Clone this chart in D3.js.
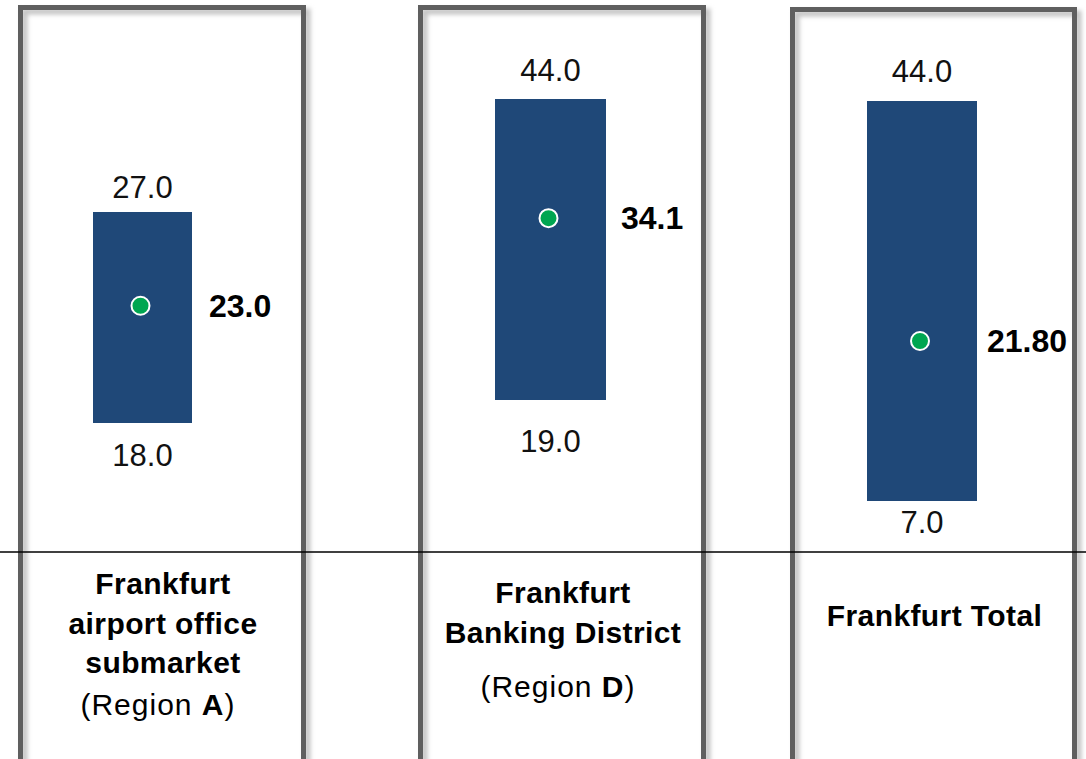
<!DOCTYPE html>
<html>
<head>
<meta charset="utf-8">
<script src="https://cdn.jsdelivr.net/npm/d3@7"></script>
<style>
  html, body { margin: 0; padding: 0; background: #fff; }
  svg { display: block; font-family: "Century Gothic", "Liberation Sans", Arial, sans-serif; }
</style>
</head>
<body>
<div id="chart"></div>
<script>
// data
const categoryLines = [["Frankfurt", "airport office", "submarket"], ["Frankfurt", "Banking District"], ["Frankfurt Total"]];
const regionCodes = ["A", "D", null];
const minValues = [18.0, 19.0, 7.0];
const maxValues = [27.0, 44.0, 44.0];
const avgValues = [23.0, 34.1, 21.8];
const avgLabels = ["23.0", "34.1", "21.80"];

// layout (each panel has its own vertical scale)
const panelX = [[20.5, 303.5], [420.5, 703.5], [792.5, 1074.5]];
const panelTop = [7.5, 7.5, 9.5];
const barX = [[93, 192], [495, 606], [867, 977]];
const barRange = [[423, 212], [400, 99], [501, 101]];
const maxGap = [14, 18, 19];
const minGap = [43, 52, 32];
const avgGap = [17, 15, 10];
const labelBase = [[594, 634, 673, 715], [603, 643, 697], [626]];

const width = 1086, height = 759;
const barColor = "#1f4878", dotColor = "#00a651", borderColor = "#5f5f5f";

const svg = d3.select("#chart").append("svg").attr("width", width).attr("height", height);

const defs = svg.append("defs");
defs.append("filter").attr("id", "soft").attr("x", "-10%").attr("y", "-10%").attr("width", "120%").attr("height", "120%")
    .append("feGaussianBlur").attr("stdDeviation", 2.2);

const fmt = d3.format(".1f");

categoryLines.forEach((lines, i) => {
    const y = d3.scaleLinear().domain([minValues[i], maxValues[i]]).range(barRange[i]);
    const [x0, x1] = barX[i];
    const cx = (x0 + x1) / 2;
    const g = svg.append("g");

    // panel frame: soft shadow then grey border
    g.append("rect")
        .attr("x", panelX[i][0] + 4).attr("y", panelTop[i] + 4)
        .attr("width", panelX[i][1] - panelX[i][0]).attr("height", 820)
        .attr("fill", "none").attr("stroke", "#c4c4c4").attr("stroke-width", 6)
        .attr("filter", "url(#soft)");
    g.append("rect")
        .attr("x", panelX[i][0]).attr("y", panelTop[i])
        .attr("width", panelX[i][1] - panelX[i][0]).attr("height", 820)
        .attr("fill", "none").attr("stroke", borderColor).attr("stroke-width", 5);

    // range bar
    g.append("rect")
        .attr("x", x0).attr("width", x1 - x0)
        .attr("y", y(maxValues[i])).attr("height", y(minValues[i]) - y(maxValues[i]))
        .attr("fill", barColor);

    g.append("text").attr("x", cx).attr("y", y(maxValues[i]) - maxGap[i])
        .attr("text-anchor", "middle").attr("font-size", 31).attr("fill", "#111")
        .text(fmt(maxValues[i]));
    g.append("text").attr("x", cx).attr("y", y(minValues[i]) + minGap[i])
        .attr("text-anchor", "middle").attr("font-size", 31).attr("fill", "#111")
        .text(fmt(minValues[i]));

    // average point
    g.append("circle").attr("cx", cx - 2).attr("cy", y(avgValues[i])).attr("r", 9)
        .attr("fill", dotColor).attr("stroke", "#fff").attr("stroke-width", 2);
    g.append("text").attr("x", x1 + avgGap[i]).attr("y", y(avgValues[i]) + 11)
        .attr("font-size", 32).attr("font-weight", "bold").attr("fill", "#000")
        .text(avgLabels[i]);

    // category label
    const lx = (panelX[i][0] + panelX[i][1]) / 2 + 1;
    lines.forEach((t, j) => {
        g.append("text").attr("x", lx).attr("y", labelBase[i][j])
            .attr("text-anchor", "middle").attr("font-size", 30).attr("font-weight", "bold")
            .attr("letter-spacing", 0.4)
            .text(t);
    });
    if (regionCodes[i]) {
        const rt = g.append("text").attr("x", lx - 5).attr("y", labelBase[i][lines.length])
            .attr("text-anchor", "middle").attr("font-size", 30).attr("letter-spacing", 1);
        rt.append("tspan").text("(Region ");
        rt.append("tspan").attr("font-weight", "bold").text(regionCodes[i]);
        rt.append("tspan").text(")");
    }
});

// divider between chart area and labels
svg.append("line").attr("x1", 0).attr("x2", width).attr("y1", 552).attr("y2", 552)
    .attr("stroke", "#000").attr("stroke-width", 1.3);
</script>
</body>
</html>
